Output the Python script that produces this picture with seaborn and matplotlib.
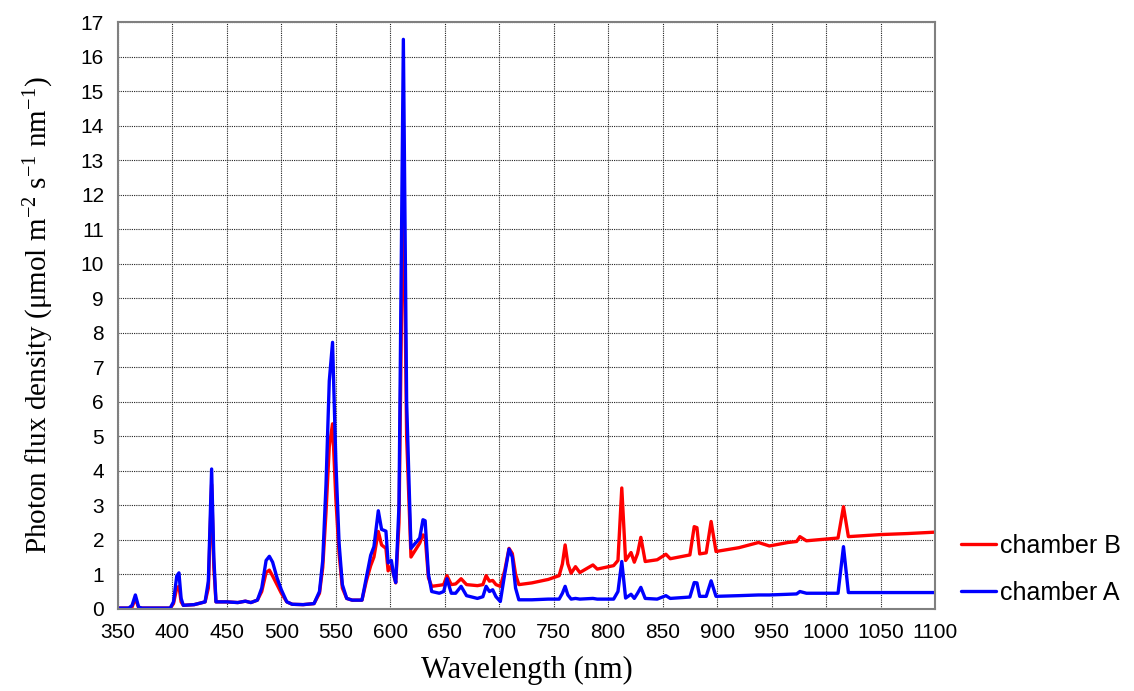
import numpy as np
import pandas as pd
import seaborn as sns
import matplotlib.pyplot as plt
from matplotlib.ticker import MultipleLocator

# =============================================================================
# Data
# =============================================================================
wavelength = [350, 360, 363, 366, 369, 372, 398, 401, 404, 406, 408, 410, 420, 430, 433,
              436, 438, 440, 450, 460, 467, 472, 478, 482, 486, 489, 492, 496, 500, 505,
              510, 520, 530, 535, 538, 541, 544, 547, 550, 553, 556, 560, 565, 574, 578,
              582, 585, 589, 592, 596, 598, 601, 603, 605, 608, 612, 615, 619, 623, 627,
              630, 632, 635, 638, 645, 649, 652, 656, 660, 665, 670, 680, 685, 688, 691,
              694, 697, 701, 705, 709, 712, 715, 718, 730, 745, 755, 758, 760.5, 763, 766,
              770, 774, 786, 790, 805, 809, 812.5, 816, 821, 824, 827, 830, 834, 845, 853,
              857, 875, 879, 881.5, 884, 890, 894.5, 899, 920, 938, 948, 965, 973, 976,
              982, 1000, 1011, 1016, 1020.5, 1050, 1075, 1100]

chamber_b = [0.02, 0.02, 0.05, 0.30, 0.03, 0.02, 0.02, 0.15, 0.60, 0.65, 0.20, 0.10, 0.12, 0.20, 0.60,
             3.60, 1.20, 0.20, 0.20, 0.18, 0.22, 0.18, 0.25, 0.50, 1.05, 1.12, 0.95, 0.70, 0.45, 0.20,
             0.13, 0.12, 0.15, 0.45, 1.20, 2.80, 4.70, 5.36, 3.20, 1.60, 0.60, 0.30, 0.25, 0.25, 0.80,
             1.25, 1.50, 2.24, 1.85, 1.75, 1.10, 1.25, 1.00, 0.75, 2.50, 13.0, 5.00, 1.50, 1.70, 1.90,
             2.14, 2.10, 0.90, 0.65, 0.68, 0.70, 0.96, 0.70, 0.72, 0.87, 0.70, 0.67, 0.70, 0.96, 0.80,
             0.82, 0.70, 0.65, 1.10, 1.75, 1.60, 1.00, 0.70, 0.75, 0.85, 0.96, 1.30, 1.85, 1.30, 1.03,
             1.22, 1.05, 1.27, 1.15, 1.25, 1.40, 3.50, 1.40, 1.63, 1.35, 1.60, 2.07, 1.37, 1.42, 1.58,
             1.45, 1.56, 2.38, 2.35, 1.59, 1.62, 2.53, 1.66, 1.77, 1.92, 1.82, 1.92, 1.95, 2.09,
             1.97, 2.02, 2.05, 2.96, 2.09, 2.15, 2.18, 2.22]

chamber_a = [0.02, 0.02, 0.10, 0.40, 0.05, 0.02, 0.02, 0.20, 0.95, 1.04, 0.30, 0.10, 0.12, 0.20, 0.80,
             4.05, 1.50, 0.20, 0.20, 0.18, 0.22, 0.18, 0.25, 0.60, 1.40, 1.52, 1.35, 0.90, 0.55, 0.20,
             0.13, 0.12, 0.15, 0.50, 1.40, 3.60, 6.60, 7.72, 4.30, 1.90, 0.70, 0.30, 0.25, 0.25, 0.90,
             1.55, 1.80, 2.84, 2.30, 2.25, 1.33, 1.40, 1.00, 0.76, 3.00, 16.5, 6.00, 1.75, 1.90, 2.05,
             2.58, 2.55, 1.00, 0.50, 0.45, 0.50, 0.87, 0.45, 0.45, 0.65, 0.38, 0.30, 0.35, 0.65, 0.50,
             0.55, 0.35, 0.21, 1.00, 1.73, 1.50, 0.60, 0.26, 0.26, 0.28, 0.28, 0.45, 0.65, 0.40, 0.28,
             0.30, 0.28, 0.30, 0.28, 0.28, 0.50, 1.37, 0.31, 0.42, 0.30, 0.45, 0.62, 0.30, 0.28, 0.38,
             0.30, 0.34, 0.76, 0.75, 0.36, 0.36, 0.81, 0.36, 0.38, 0.40, 0.40, 0.42, 0.43, 0.50,
             0.45, 0.45, 0.45, 1.80, 0.47, 0.47, 0.47, 0.47]

series_names = ['chamber B', 'chamber A']
series_colors = ['#ff0000', '#0000ff']

df = pd.concat([
    pd.DataFrame({'wavelength': wavelength, 'pfd': chamber_b, 'series': 'chamber B'}),
    pd.DataFrame({'wavelength': wavelength, 'pfd': chamber_a, 'series': 'chamber A'}),
], ignore_index=True)

# =============================================================================
# Plot
# =============================================================================
sns.set_style('white')
plt.rcParams['font.family'] = ['Liberation Sans', 'DejaVu Sans']
plt.rcParams['text.color'] = 'black'
plt.rcParams['axes.labelcolor'] = 'black'
plt.rcParams['mathtext.default'] = 'regular'

fig = plt.figure(figsize=(11.34, 6.91), dpi=100)
ax = fig.add_axes([0.104, 0.119, 0.7205, 0.849])

sns.lineplot(data=df, x='wavelength', y='pfd', hue='series', hue_order=series_names,
             palette=series_colors, linewidth=2.4, ax=ax, legend=False, sort=False)

ax.set_xlim(350, 1100)
ax.set_ylim(0, 17)
ax.xaxis.set_major_locator(MultipleLocator(50))
ax.xaxis.set_minor_locator(MultipleLocator(25))
ax.yaxis.set_major_locator(MultipleLocator(1))
ax.yaxis.set_minor_locator(MultipleLocator(0.5))

ax.grid(True, which='major', color='#222222', linestyle=(0, (1, 1)), linewidth=0.8)
ax.set_axisbelow(True)
ax.tick_params(which='both', direction='in', colors='#808080', labelcolor='black', labelsize=15)
ax.tick_params(which='major', length=0, pad=10)
ax.tick_params(which='minor', length=5)
for s in ax.spines.values():
    s.set_color('#808080')
    s.set_linewidth(1.5)

ax.set_xlabel('Wavelength (nm)', family='Liberation Serif', fontsize=22, labelpad=10)
ax.set_ylabel('Photon flux density (μmol m$^{-2}$ s$^{-1}$ nm$^{-1}$)',
              family='Liberation Serif', fontsize=21, labelpad=18)

handles = [plt.Line2D([], [], color=c, linewidth=2.4) for c in series_colors]
fig.legend(handles, series_names, loc='center left', bbox_to_anchor=(0.828, 0.176),
           frameon=False, fontsize=18, handlelength=1.4, handletextpad=0.15, labelspacing=0.9)

fig.savefig('out.png', dpi=100)
